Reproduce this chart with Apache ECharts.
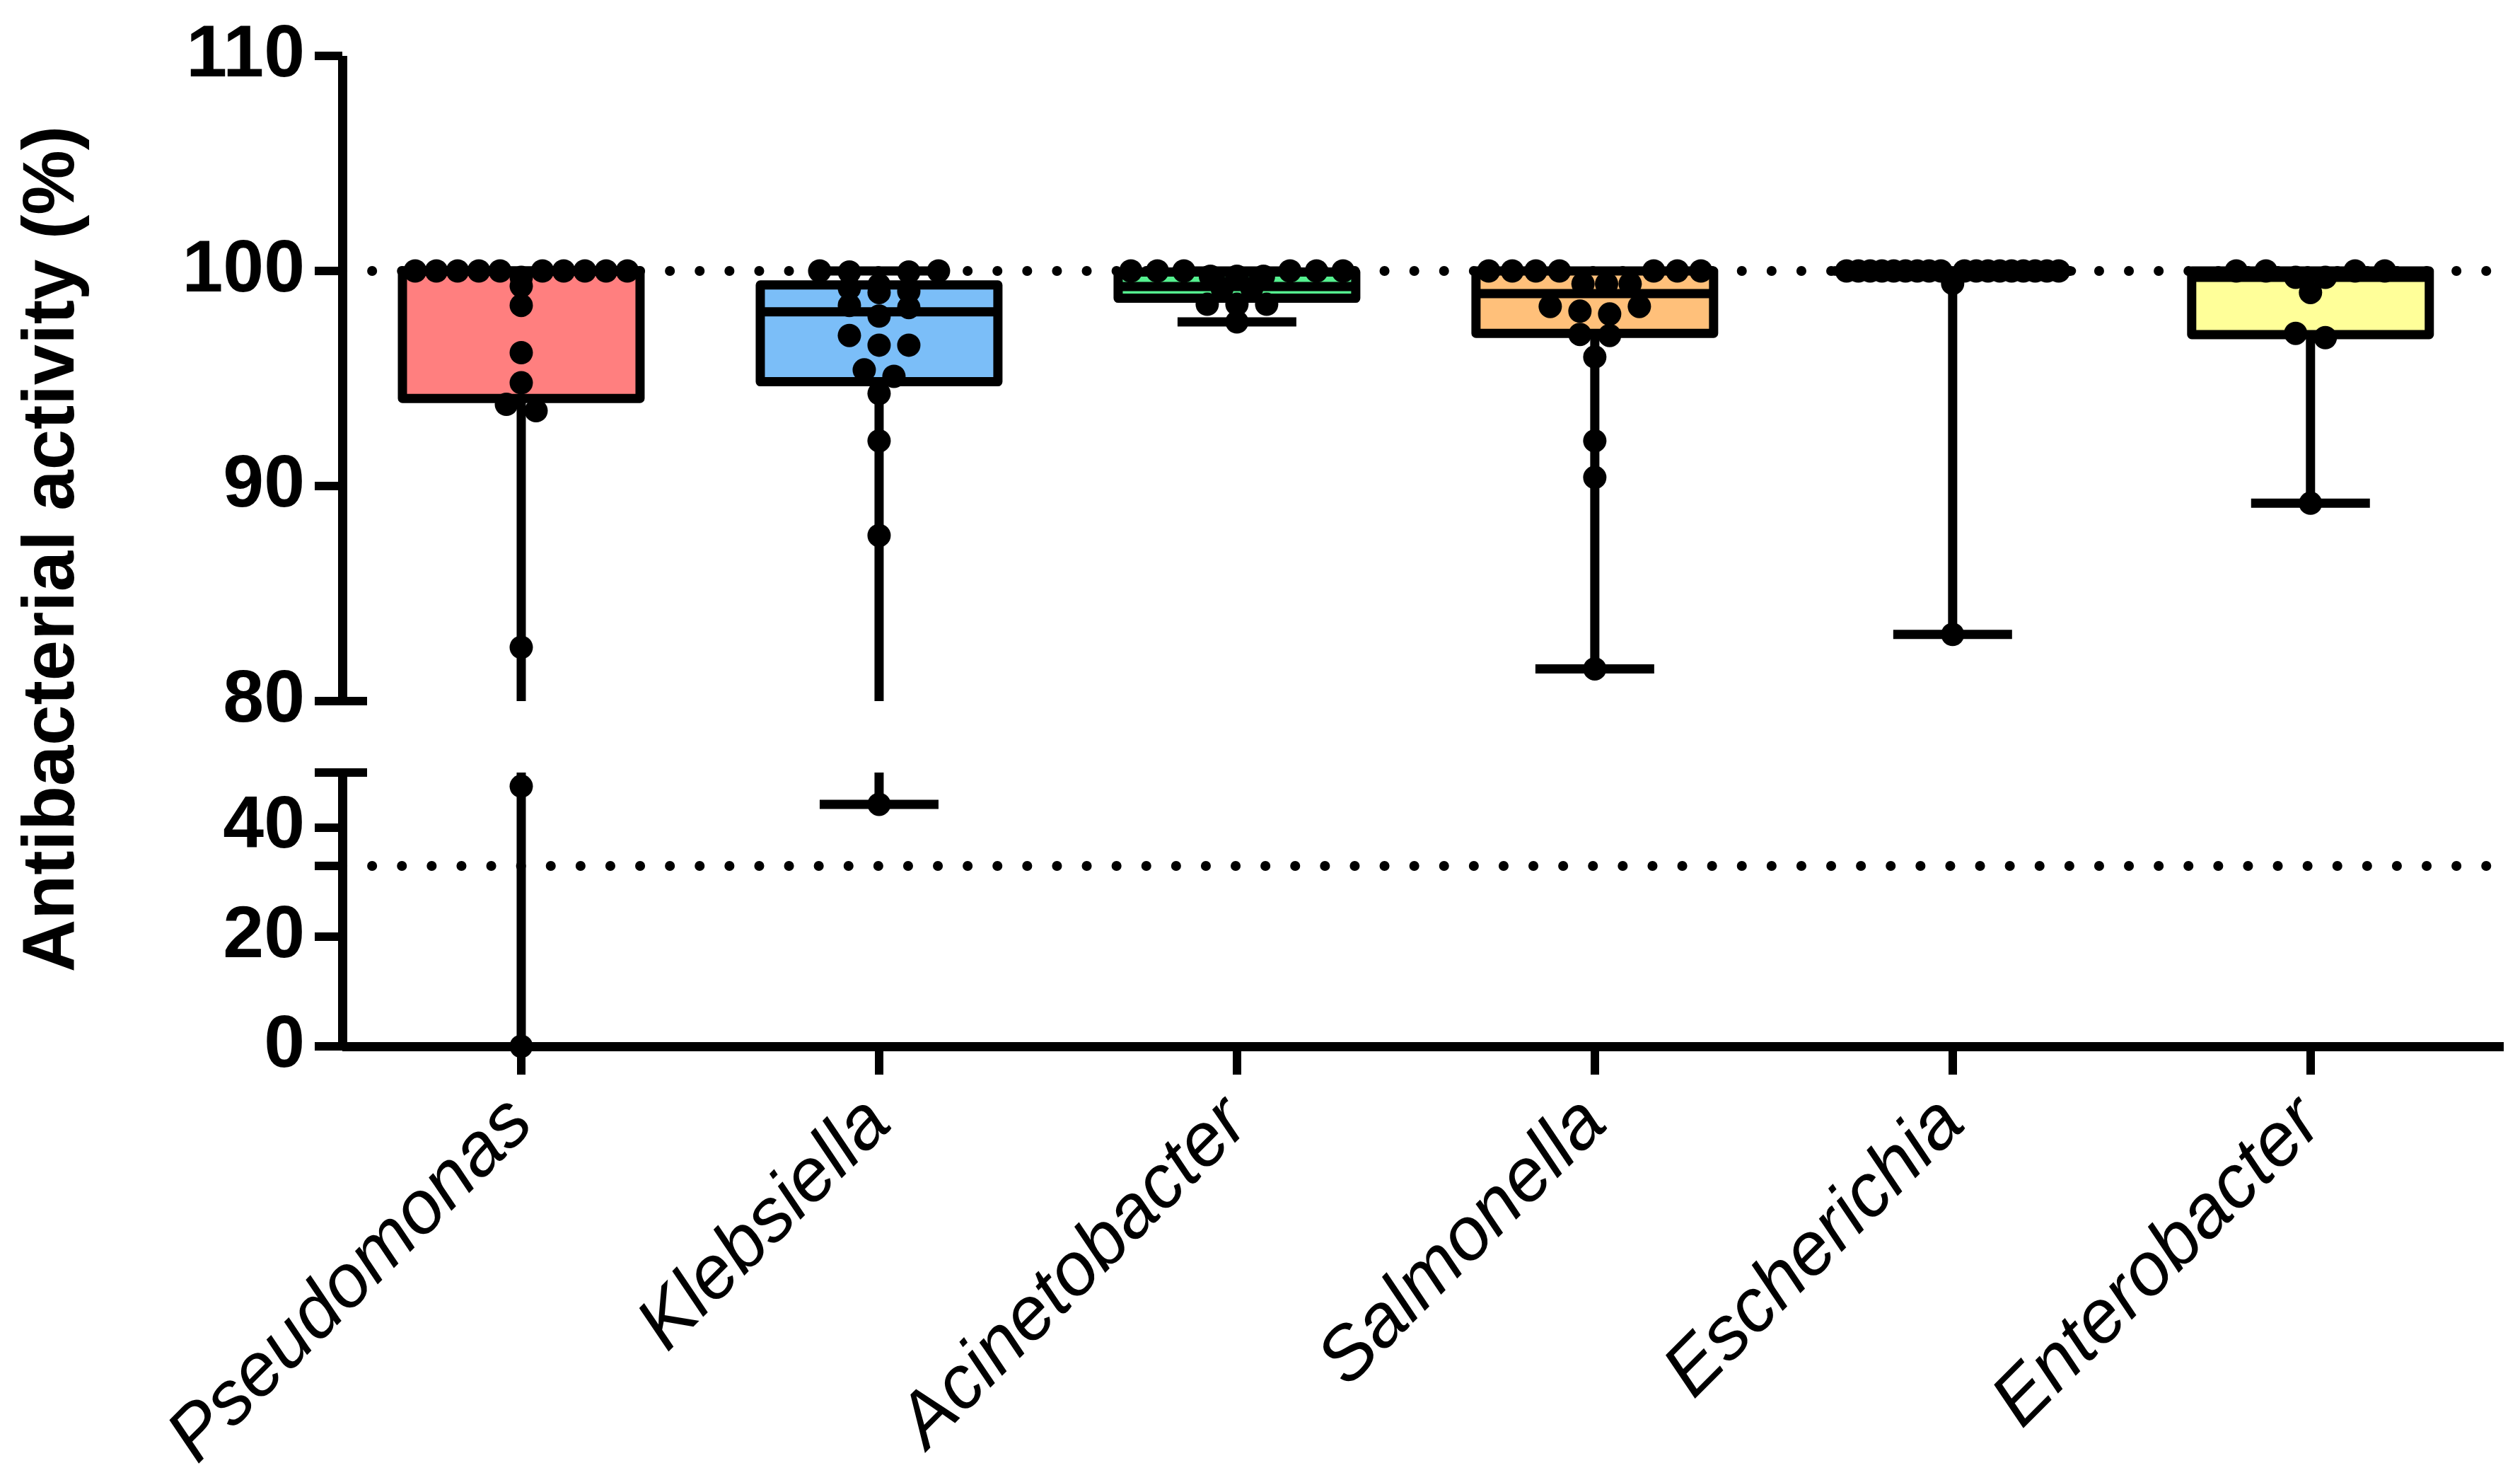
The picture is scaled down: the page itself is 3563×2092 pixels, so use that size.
<!DOCTYPE html>
<html>
<head>
<meta charset="utf-8">
<script src="https://cdn.jsdelivr.net/npm/echarts@6/dist/echarts.min.js"></script>
<style>
html,body{margin:0;padding:0;background:#ffffff;}
#chart{width:3563px;height:2092px;}
</style>
</head>
<body>
<div id="chart"></div>
<script>
// ---------------- data ----------------
const categories = ['Pseudomonas', 'Klebsiella', 'Acinetobacter', 'Salmonella', 'Escherichia', 'Enterobacter'];
const boxColors = ['#FF7F7F', '#7BBEF8', '#55F08F', '#FFC07A', '#C9A6F2', '#FFFF99'];

// box statistics: [min, Q1, median, Q3, max]
const boxPseudomonas   = [0,     94.07, 100,   100, 100];
const boxKlebsiella    = [44.2,  94.85, 98.1,  99.35, 100];
const boxAcinetobacter = [97.63, 98.73, 99.28, 99.95, 100];
const boxSalmonella    = [81.5,  97.1,  98.95, 100, 100];
const boxEscherichia   = [83.1,  100,   100,   100, 100];
const boxEnterobacter  = [89.2,  97.04, 99.7,  100, 100];

// individual measurements
const ptsPseudomonas   = [100,100,100,100,100,100,100,100,100,100, 99.7, 99.3, 98.4, 96.2, 94.8, 93.8, 93.5, 82.5, 47.5, 0];
const ptsKlebsiella    = [100,100,99.95,99.95, 99.35, 99.2, 99.05, 99.0, 98.4, 98.3, 97.9, 97.0, 96.55, 96.55, 95.4, 95.1, 94.3, 92.1, 87.7, 44.2];
const ptsAcinetobacter = [100,100,100,100,100,100, 99.75,99.75,99.75, 99.2, 99.2, 98.45, 98.45, 98.45, 97.63];
const ptsSalmonella    = [100,100,100,100,100,100,100, 99.4,99.4,99.4, 98.35, 98.35, 98.13, 98.0, 97.05, 97.0, 96.0, 92.1, 90.4, 81.5];
const ptsEscherichia   = [100,100,100,100,100,100,100,100,100,100,100,100,100,100,100,100,100,100, 99.42, 83.1];
const ptsEnterobacter  = [100,100,100,100, 99.7, 99.7, 99.0, 97.1, 96.9, 89.2];

// axes
const upperRange = [80, 110];
const upperTicks = [80, 90, 100, 110];
const lowerRange = [0, 50];
const lowerTickValues = [0, 20, 33, 40, 50];
const lowerLabelValues = [0, 20, 40];
const breakMarksUpper = [80];
const breakMarksLower = [50];
const refLineUpper = 100;
const refLineLower = 33;
const xMin = -0.5, xMax = 5.54;

const boxStats = [boxPseudomonas, boxKlebsiella, boxAcinetobacter, boxSalmonella, boxEscherichia, boxEnterobacter];
const points = [ptsPseudomonas, ptsKlebsiella, ptsAcinetobacter, ptsSalmonella, ptsEscherichia, ptsEnterobacter];

// ---------------- style ----------------
const FONT = 'Liberation Sans';
const LW = 13;
const BOX_FRAC = 0.664, CAP_FRAC = 0.332;
const SYMBOL = 33;
const BIN_PX = 20, SPACING_PX = 42, MAX_SPREAD_PX = 300;

const chart = echarts.init(document.getElementById('chart'), null, {renderer: 'canvas'});

function boxRender(range) {
  const lo = range[0], hi = range[1];
  return function (params, api) {
    const i = api.value(0);
    const mn = api.value(1), q1 = api.value(2), md = api.value(3), q3 = api.value(4), mx = api.value(5);
    const band = api.size([1, 0])[0];
    const bw = band * BOX_FRAC, cw = band * CAP_FRAC;
    const cx = api.coord([i, lo])[0];
    const cl = v => Math.min(hi, Math.max(lo, v));
    const Y = v => api.coord([i, cl(v)])[1];
    const inR = v => v >= lo && v <= hi;
    const ls = {stroke: '#000', lineWidth: LW, fill: null};
    const ch = [];
    // lower whisker
    if (mn <= hi && q1 >= lo && q1 > mn) {
      const a = Y(q1), b = Y(mn);
      if (Math.abs(b - a) > 0.5) ch.push({type: 'line', shape: {x1: cx, y1: a, x2: cx, y2: b}, style: ls});
      if (inR(mn) && mn > lo) ch.push({type: 'line', shape: {x1: cx - cw / 2, y1: b, x2: cx + cw / 2, y2: b}, style: ls});
    }
    // upper whisker
    if (q3 <= hi && mx >= lo && mx > q3) {
      const a = Y(q3), b = Y(mx);
      if (Math.abs(b - a) > 0.5) ch.push({type: 'line', shape: {x1: cx, y1: a, x2: cx, y2: b}, style: ls});
      if (inR(mx)) ch.push({type: 'line', shape: {x1: cx - cw / 2, y1: b, x2: cx + cw / 2, y2: b}, style: ls});
    }
    // box
    if (q1 <= hi && q3 >= lo) {
      const top = Y(q3), bot = Y(q1);
      ch.push({type: 'rect', shape: {x: cx - bw / 2, y: top, width: bw, height: Math.max(0.1, bot - top)},
        style: {fill: boxColors[i], stroke: '#000', lineWidth: LW, lineJoin: 'round'}});
      if (inR(md)) {
        const m = Y(md);
        ch.push({type: 'line', shape: {x1: cx - bw / 2, y1: m, x2: cx + bw / 2, y2: m}, style: ls});
      }
    }
    return {type: 'group', children: ch};
  };
}

function breakRender(params, api) {
  const p = api.coord([xMin, api.value(0)]);
  return {type: 'line', shape: {x1: p[0] - 39, y1: p[1], x2: p[0] + 35, y2: p[1]},
    style: {stroke: '#000', lineWidth: 12}};
}

const boxData = boxStats.map((s, i) => [i].concat(s));
const dotted = {color: '#000', width: 14, type: [0.1, 42], cap: 'round', opacity: 1};

const yLabel = {show: true, color: '#000', fontFamily: FONT, fontWeight: 'bold', fontSize: 104, margin: 53};
const axisLineStyle = {show: true, onZero: false, lineStyle: {color: '#000', width: LW, cap: 'butt'}};
const tickStyle = {show: true, inside: false, length: 39, lineStyle: {color: '#000', width: 12}};

const option = {
  animation: false,
  backgroundColor: '#ffffff',
  grid: [
    {left: 484, top: 79, width: 3056, height: 912, outerBoundsMode: 'none', containLabel: false},
    {left: 484, top: 1092, width: 3056, height: 387, outerBoundsMode: 'none', containLabel: false}
  ],
  xAxis: [
    {gridIndex: 0, type: 'value', min: xMin, max: xMax, show: false},
    {gridIndex: 1, type: 'value', min: xMin, max: xMax,
      axisLine: axisLineStyle,
      axisTick: Object.assign({}, tickStyle, {customValues: categories.map((c, i) => i), length: 40}),
      axisLabel: {show: true, customValues: categories.map((c, i) => i), formatter: v => categories[Math.round(v)],
        rotate: 45, color: '#000', fontFamily: FONT, fontStyle: 'italic', fontSize: 106, margin: 92},
      splitLine: {show: false}}
  ],
  yAxis: [
    {gridIndex: 0, type: 'value', min: upperRange[0], max: upperRange[1], interval: 10,
      axisLine: axisLineStyle, axisTick: tickStyle,
      axisLabel: Object.assign({}, yLabel, {customValues: upperTicks}),
      splitLine: {show: false}},
    {gridIndex: 1, type: 'value', min: lowerRange[0], max: lowerRange[1],
      axisLine: axisLineStyle,
      axisTick: Object.assign({}, tickStyle, {customValues: lowerTickValues}),
      axisLabel: Object.assign({}, yLabel, {customValues: lowerLabelValues}),
      splitLine: {show: false}}
  ],
  graphic: [{
    type: 'text', x: 76, y: 776, rotation: Math.PI / 2,
    style: {text: 'Antibacterial activity (%)', fill: '#000', fontFamily: FONT, fontWeight: 'bold', fontSize: 103,
      align: 'center', verticalAlign: 'middle'}
  }],
  series: [
    {id: 'brkU', type: 'custom', xAxisIndex: 0, yAxisIndex: 0, z: 1, clip: false,
      encode: {x: -1, y: 0}, data: breakMarksUpper.map(v => [v]), renderItem: breakRender,
      markLine: {silent: true, symbol: ['none', 'none'], label: {show: false}, lineStyle: dotted, data: [{yAxis: refLineUpper}]}},
    {id: 'brkL', type: 'custom', xAxisIndex: 1, yAxisIndex: 1, z: 1, clip: false,
      encode: {x: -1, y: 0}, data: breakMarksLower.map(v => [v]), renderItem: breakRender,
      markLine: {silent: true, symbol: ['none', 'none'], label: {show: false}, lineStyle: dotted, data: [{yAxis: refLineLower}]}},
    {id: 'boxU', type: 'custom', xAxisIndex: 0, yAxisIndex: 0, z: 10, clip: false,
      encode: {x: 0, y: [1, 2, 3, 4, 5]}, data: boxData, renderItem: boxRender(upperRange)},
    {id: 'boxL', type: 'custom', xAxisIndex: 1, yAxisIndex: 1, z: 10, clip: false,
      encode: {x: 0, y: [1, 2, 3, 4, 5]}, data: boxData, renderItem: boxRender(lowerRange)},
    {id: 'ptsU', type: 'scatter', xAxisIndex: 0, yAxisIndex: 0, z: 12, symbol: 'circle', symbolSize: SYMBOL,
      itemStyle: {color: '#000', opacity: 1}, data: []},
    {id: 'ptsL', type: 'scatter', xAxisIndex: 1, yAxisIndex: 1, z: 12, symbol: 'circle', symbolSize: SYMBOL,
      itemStyle: {color: '#000', opacity: 1}, data: []}
  ]
};
chart.setOption(option);

// ---- horizontal spreading of points (computed in pixel space via the chart's own scales) ----
const bandPx = chart.convertToPixel({xAxisIndex: 0}, 1) - chart.convertToPixel({xAxisIndex: 0}, 0);
const upperPts = [], lowerPts = [];
points.forEach((vals, gi) => {
  const items = vals.map(v => {
    const panel = v >= upperRange[0] ? 0 : 1;
    return {v: v, panel: panel, py: chart.convertToPixel({yAxisIndex: panel}, v)};
  });
  items.sort((a, b) => (a.panel - b.panel) || (a.py - b.py));
  const bins = [];
  items.forEach(it => {
    const last = bins[bins.length - 1];
    if (last && last.panel === it.panel && it.py - last.py0 <= BIN_PX) last.items.push(it);
    else bins.push({panel: it.panel, py0: it.py, items: [it]});
  });
  bins.forEach(b => {
    const n = b.items.length;
    const s = n > 1 ? Math.min(SPACING_PX, MAX_SPREAD_PX / (n - 1)) : 0;
    const pos = [];
    for (let k = 0; k < n; k++) pos.push((k - (n - 1) / 2) * s);
    pos.sort((a, c) => (Math.abs(a) - Math.abs(c)) || (c - a));
    const members = b.items.slice().sort((a, c) => a.v - c.v);
    members.forEach((m, k) => { m.dx = pos[k]; });
  });
  items.forEach(it => {
    const d = [gi + it.dx / bandPx, it.v];
    (it.panel === 0 ? upperPts : lowerPts).push(d);
  });
});
chart.setOption({series: [{id: 'ptsU', data: upperPts}, {id: 'ptsL', data: lowerPts}]});
</script>
</body>
</html>
